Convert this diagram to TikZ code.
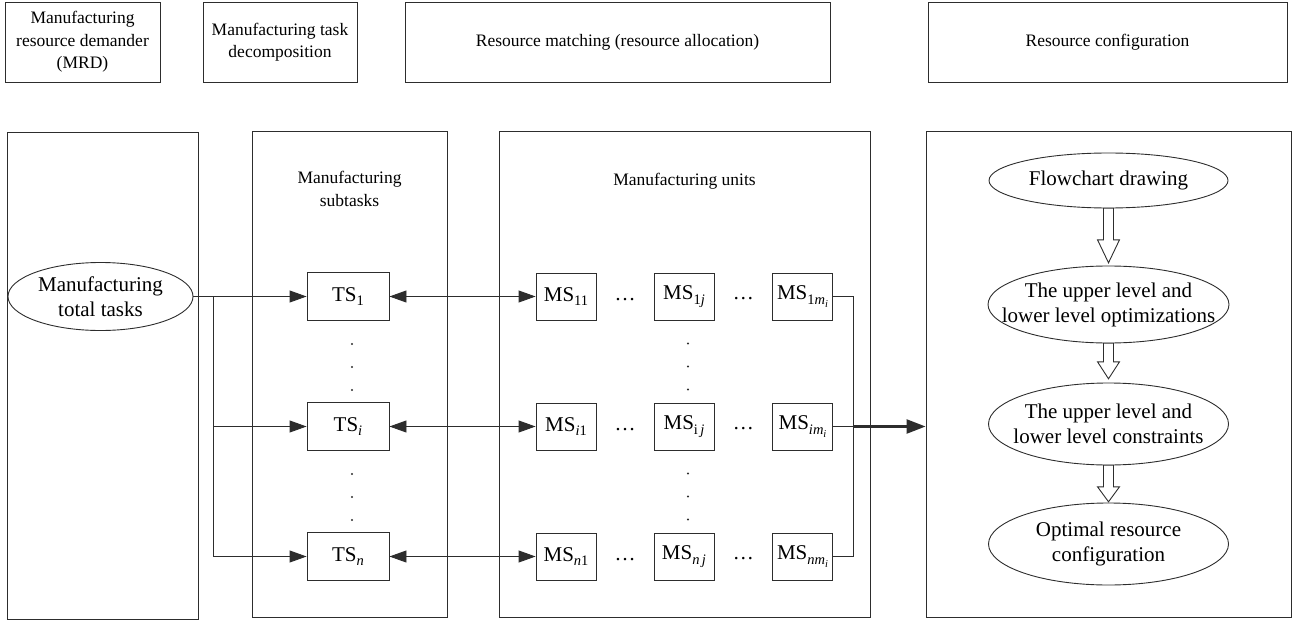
\documentclass[tikz,border=0pt]{standalone}
\usepackage{fontspec}
\setmainfont{Liberation Serif}
\usetikzlibrary{arrows.meta,calc}
\definecolor{lc}{RGB}{45,45,45}
\newcommand\fmain{\fontsize{21}{25}\selectfont}
\newcommand\fsmall{\fontsize{17.5}{22.5}\selectfont}
\newcommand\mysub[1]{\raisebox{-4.5pt}{\fontsize{14.5}{15}\selectfont #1}}
\newcommand\mysubb[1]{\raisebox{-3pt}{\fontsize{10.5}{11}\selectfont #1}}
% hollow arrow: from node, to node, head length, gap before target
\newcommand\hollowarr[4]{%
  \draw[harr] let \p1=(#1.south), \p2=(#2.north) in
    ({\x1-5pt},\y1) -- ({\x1+5pt},\y1) -- ({\x1+5pt},{\y2+#4pt+#3pt}) --
    ({\x1+11pt},{\y2+#4pt+#3pt}) -- (\x1,{\y2+#4pt}) --
    ({\x1-11pt},{\y2+#4pt+#3pt}) -- ({\x1-5pt},{\y2+#4pt+#3pt}) -- cycle;}
\newcommand\drawell[3]{\draw[ln] (#1.center) ellipse[x radius=#2, y radius=#3];}
\begin{document}
\begin{tikzpicture}[x=1pt,y=-1pt,
  ln/.style={draw=lc, line width=0.9pt},
  hdr/.style={ln, rectangle, inner sep=0pt, align=center, font=\fsmall, minimum height=80pt},
  pnl/.style={ln, rectangle, inner sep=0pt, minimum height=486pt},
  ttl/.style={inner sep=0pt, align=center, font=\fsmall},
  tsbox/.style={ln, minimum width=82pt, minimum height=48pt, inner sep=0pt, font=\fmain},
  msbox/.style={ln, minimum width=60pt, minimum height=47pt, inner sep=0pt, font=\fmain},
  elltxt/.style={inner sep=0pt, align=center, font=\fmain},
  dt/.style={inner sep=0pt, font=\fmain, anchor=base},
  ftip/.tip={Triangle[length=17pt,width=12pt]},
  conn/.style={draw=lc, line width=0.9pt},
  arr/.style={conn, -ftip},
  darr/.style={conn, ftip-ftip},
  harr/.style={draw=lc, line width=0.9pt, fill=white, line join=miter},
  vdot/.style={fill=lc}
]
\useasboundingbox (0,0) rectangle (1292,623);

% header boxes
\node[hdr, minimum width=155pt] (h1) at (82.5,42) {Manufacturing\\resource demander\\(MRD)};
\node[hdr, minimum width=154pt] (h2) at (280,42) {Manufacturing task\\decomposition};
\node[hdr, minimum width=425pt] (h3) at (617.5,42) {Resource matching (resource allocation)};
\node[hdr, minimum width=359pt] (h4) at (1107.5,42) {Resource configuration};

% panels
\node[pnl, minimum width=191pt, minimum height=487pt] (p1) at (102.5,375.5) {};
\node[pnl, minimum width=195pt] (p2) at (349.5,374) {};
\node[pnl, minimum width=371pt] (p3) at (684.5,374) {};
\node[pnl, minimum width=365pt] (p4) at (1108.5,374) {};

% panel titles
\node[ttl] (t2) at (349.5,189) {Manufacturing\\subtasks};
\node[ttl] (t3) at (684.5,181) {Manufacturing units};

% total tasks ellipse
\node[elltxt, minimum width=185pt, minimum height=68pt] (e0) at (100.5,296.5) {Manufacturing\\total tasks};
\drawell{e0}{92.5}{34}

% subtasks
\node[tsbox] (ts1) at (348,296.5) {TS\mysub{1}};
\node[tsbox] (tsi) at (348,426.5) {TS\mysub{\textit{i}}};
\node[tsbox] (tsn) at (348,556.5) {TS\mysub{\textit{n}}};

% manufacturing units
\node[msbox] (m11) at (566,296.5) {MS\mysub{11}};
\node[msbox] (m12) at (684,296.5) {MS\mysub{1\textit{j}}};
\node[msbox] (m1m) at (802.5,296.5) {MS\mysub{1\textit{m}\mysubb{\textit{i}}}};
\node[msbox] (mi1) at (566,426.5) {MS\mysub{\textit{i}1}};
\node[msbox] (mi2) at (684,426.5) {MS\mysub{i\,\textit{j}}};
\node[msbox] (mim) at (802.5,426.5) {MS\mysub{\textit{im}\mysubb{\textit{i}}}};
\node[msbox] (mn1) at (566,556.5) {MS\mysub{\textit{n}1}};
\node[msbox] (mn2) at (684,556.5) {MS\mysub{\textit{n\,j}}};
\node[msbox] (mnm) at (802.5,556.5) {MS\mysub{\textit{nm}\mysubb{\textit{i}}}};

% horizontal dots
\node[dt] (d11) at ($(m11.base east)!.5!(m12.base west)$) {\dots};
\node[dt] (d12) at ($(m12.base east)!.5!(m1m.base west)$) {\dots};
\node[dt] (di1) at ($(mi1.base east)!.5!(mi2.base west)$) {\dots};
\node[dt] (di2) at ($(mi2.base east)!.5!(mim.base west)$) {\dots};
\node[dt] (dn1) at ($(mn1.base east)!.5!(mn2.base west)$) {\dots};
\node[dt] (dn2) at ($(mn2.base east)!.5!(mnm.base west)$) {\dots};

% vertical dots
\foreach \n in {ts1,tsi,m12,mi2}{
  \foreach \d in {23,46,69}{
    \fill[vdot] ($(\n.south)+(4,\d)$) circle[radius=1.1];
  }
}

% configuration ellipses
\node[elltxt, minimum width=239pt, minimum height=55pt] (e1) at (1108.5,180.5) {Flowchart drawing};
\node[elltxt, minimum width=241pt, minimum height=77pt] (e2) at (1108.5,304.5) {The upper level and\\lower level optimizations};
\node[elltxt, minimum width=240pt, minimum height=82pt] (e3) at (1108.5,424) {The upper level and\\lower level constraints};
\node[elltxt, minimum width=240pt, minimum height=82pt] (e4) at (1108.5,544) {Optimal resource\\configuration};
\drawell{e1}{119.5}{27.5}
\drawell{e2}{120.5}{38.5}
\drawell{e3}{120}{41}
\drawell{e4}{120}{41}

\hollowarr{e1}{e2}{23}{3}
\hollowarr{e2}{e3}{17}{4}
\hollowarr{e3}{e4}{15}{1}

% connectors
\coordinate (br) at ($(e0.east)+(20,0)$);
\draw[arr] (e0.east) -- (ts1.west);
\draw[arr] (br) |- (tsi.west);
\draw[arr] (br) |- (tsn.west);

\draw[darr] (ts1.east) -- (m11.west);
\draw[darr] (tsi.east) -- (mi1.west);
\draw[darr] (tsn.east) -- (mn1.west);

\coordinate (rc) at ($(m1m.east)+(20,0)$);
\draw[conn] (m1m.east) -- (rc) |- (mnm.east);
\draw[conn] (mim.east) -- (mim.east -| rc);
\draw[conn, line width=2.4pt, -{Triangle[length=19pt,width=14pt]}] (mim.east -| rc) -- (mim.east -| p4.west);
\end{tikzpicture}
\end{document}
